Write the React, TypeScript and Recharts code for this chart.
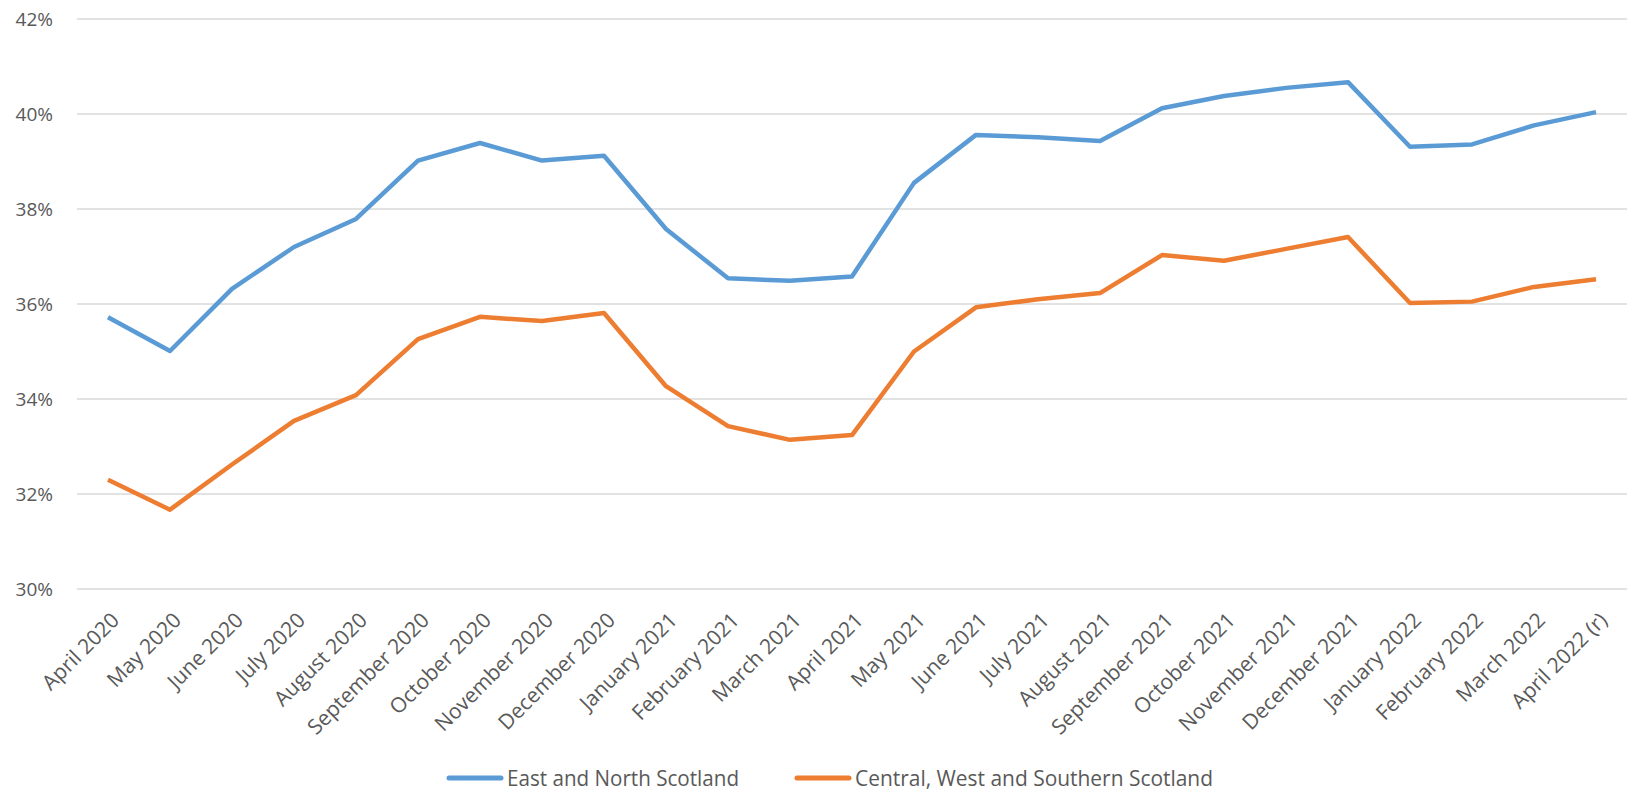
import { LineChart, Line, XAxis, YAxis, CartesianGrid, Legend } from 'recharts';

const months = [
  'April 2020', 'May 2020', 'June 2020', 'July 2020', 'August 2020', 'September 2020',
  'October 2020', 'November 2020', 'December 2020', 'January 2021', 'February 2021',
  'March 2021', 'April 2021', 'May 2021', 'June 2021', 'July 2021', 'August 2021',
  'September 2021', 'October 2021', 'November 2021', 'December 2021', 'January 2022',
  'February 2022', 'March 2022', 'April 2022 (r)',
];

const eastNorth = [
  35.72, 35.01, 36.32, 37.2, 37.79, 39.02, 39.39, 39.02, 39.12, 37.58, 36.54,
  36.49, 36.58, 38.55, 39.56, 39.51, 39.43, 40.12, 40.38, 40.55, 40.67, 39.31,
  39.36, 39.76, 40.04,
];

const centralWestSouth = [
  32.3, 31.67, 32.62, 33.54, 34.08, 35.26, 35.73, 35.64, 35.81, 34.27, 33.43,
  33.14, 33.24, 35.0, 35.93, 36.1, 36.23, 37.03, 36.91, 37.16, 37.41, 36.02,
  36.05, 36.36, 36.52,
];

const yTicks = [30, 32, 34, 36, 38, 40, 42];

const seriesInfo = [
  { key: 'east', label: 'East and North Scotland', color: '#5B9BD5', textWidth: 232 },
  { key: 'central', label: 'Central, West and Southern Scotland', color: '#ED7D31', textWidth: 358 },
];

const data = months.map((m, i) => ({
  month: m,
  east: eastNorth[i],
  central: centralWestSouth[i],
}));

const FONT = '"Open Sans", sans-serif';
const TEXT = '#595959';

function AngledTick(props: any) {
  const { x, y, payload } = props;
  return (
    <g transform={`translate(${x + 2},${y})`}>
      <text
        x={0}
        y={0}
        dy="0.71em"
        textAnchor="end"
        transform="rotate(-45)"
        fill={TEXT}
        fontSize={21}
        fontFamily={FONT}
      >
        {payload.value}
      </text>
    </g>
  );
}

function LegendBox() {
  const lineLen = 56;
  const gap = 4;
  const itemGap = 56;
  let cx = 447;
  const items = seriesInfo.map((s) => {
    const start = cx;
    cx += lineLen + gap + s.textWidth + itemGap;
    return (
      <g key={s.key}>
        <line x1={start + 2} x2={start + lineLen - 2} y1={16} y2={16} stroke={s.color} strokeWidth={5} strokeLinecap="round" />
        <text
          x={start + lineLen + gap}
          y={16}
          dy="0.36em"
          fill={TEXT}
          fontSize={22}
          fontFamily={FONT}
          textLength={s.textWidth}
          lengthAdjust="spacingAndGlyphs"
        >
          {s.label}
        </text>
      </g>
    );
  });
  return (
    <svg width={1627} height={32} style={{ display: 'block' }}>
      {items}
    </svg>
  );
}

export default function App() {
  return (
    <div style={{ position: 'absolute', left: 0, top: 0, background: '#fff' }}>
      <LineChart width={1627} height={790} data={data} margin={{ top: 19, right: 0, left: 0, bottom: 0 }}>
        <CartesianGrid vertical={false} stroke="#D9D9D9" strokeWidth={1.5} />
        <XAxis
          dataKey="month"
          interval={0}
          height={169}
          axisLine={false}
          tickLine={false}
          tickSize={0}
          tickMargin={22}
          padding={{ left: 31, right: 31 }}
          tick={<AngledTick />}
        />
        <YAxis
          domain={[30, 42]}
          ticks={yTicks}
          width={77}
          axisLine={false}
          tickLine={false}
          tickSize={0}
          tickMargin={24}
          tickFormatter={(v: number) => `${v}%`}
          tick={{ fill: TEXT, fontSize: 19, fontFamily: FONT }}
        />
        <Legend
          verticalAlign="bottom"
          content={() => <LegendBox />}
          wrapperStyle={{ left: 0, bottom: -4, width: 1627, height: 32 }}
        />
        {seriesInfo.map((s) => (
          <Line
            key={s.key}
            type="linear"
            dataKey={s.key}
            name={s.label}
            stroke={s.color}
            strokeWidth={4.5}
            strokeLinejoin="round"
            dot={false}
            activeDot={false}
            isAnimationActive={false}
          />
        ))}
      </LineChart>
    </div>
  );
}
